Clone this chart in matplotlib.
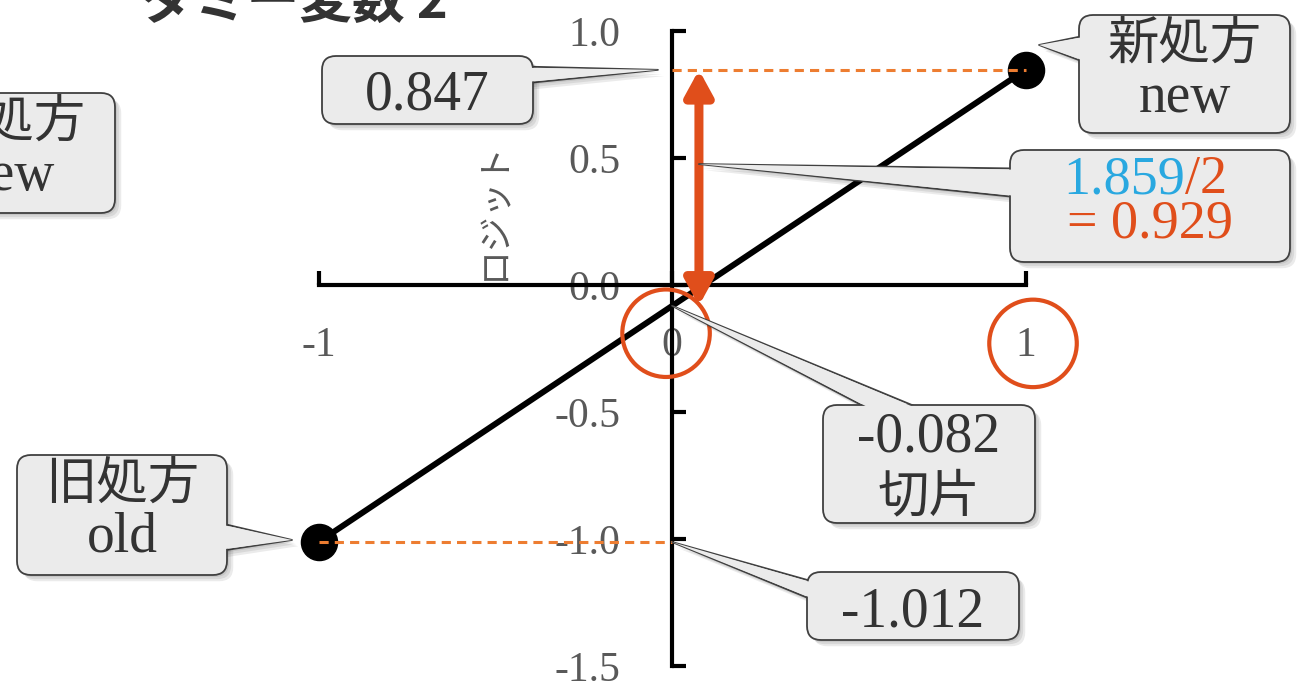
import matplotlib
matplotlib.use("Agg")
import matplotlib.pyplot as plt
import matplotlib.transforms as mtransforms
import matplotlib.patheffects as pe
from matplotlib.patches import FancyBboxPatch

# dummy coding: 旧処方 = -1, 新処方 = +1
groups = [("旧処方", "old"), ("新処方", "new")]
dummy = [-1, 1]
logit = [-1.012, 0.847]
intercept = -0.082
half_diff = 0.929
yticks = [-1.5, -1.0, -0.5, 0.0, 0.5, 1.0]
xticks = [-1, 0, 1]
circled = [0, 1]

W, H = 1301, 685
ORANGE = "#E04E1B"
DASH = "#ED7D31"
BLUE = "#29A8E0"
TXT = "#333333"
GREY = "#595959"
BOXFC = "#EBEBEB"
BOXEC = "#404040"
SERIF = ["Liberation Serif", "DejaVu Serif"]
CJK = ["Noto Sans CJK JP", "DejaVu Sans"]

fig = plt.figure(figsize=(W / 100, H / 100), dpi=100)
ax = fig.add_axes([0, 0, 1, 1])
ax.patch.set_visible(False)
ax.set_xlim(-1.901, 1.779)
ax.set_ylim(-1.575, 1.122)

# axes crossing at the origin
for side in ("top", "right"):
    ax.spines[side].set_visible(False)
ax.spines["left"].set_position(("data", 0))
ax.spines["bottom"].set_position(("data", 0))
ax.spines["left"].set_bounds(yticks[0], yticks[-1])
ax.spines["bottom"].set_bounds(xticks[0], xticks[-1])
for side in ("left", "bottom"):
    ax.spines[side].set_linewidth(3)

ax.set_yticks(yticks, [f"{v:.1f}" for v in yticks])
ax.set_xticks(xticks, [str(v) for v in xticks])
ax.tick_params(axis="y", direction="in", length=10, width=3, pad=37,
               labelsize=30, labelcolor=GREY, labelfontfamily="Liberation Serif")
ax.tick_params(axis="x", direction="in", length=10, width=3, pad=30,
               labelsize=30, labelcolor=GREY, labelfontfamily="Liberation Serif")

ax.set_ylabel("ロジット", family=CJK, fontsize=25, color=GREY)
ax.yaxis.set_label_coords(512 / W, 1 - 210 / H)

fig.text(294 / W, 1 - 18 / H, "ダミー変数 2", ha="center", va="baseline",
         fontsize=38, weight="bold", family=CJK, color=TXT)

# regression line and the two group means
ax.plot(dummy, logit, color="black", lw=4.3, zorder=3)
ax.plot(dummy, logit, "o", color="black", ms=26, zorder=3.1)
ax.plot([0, dummy[1]], [logit[1]] * 2, ls=(0, (3, 2)), color=DASH, lw=2.2, zorder=3.2)
ax.plot([dummy[0], 0], [logit[0]] * 2, ls=(0, (3, 2)), color=DASH, lw=2.2, zorder=3.2)

# half of the difference: intercept -> new group
arrow_x = 0.076
ax.annotate("", xy=(arrow_x, intercept + half_diff), xytext=(arrow_x, intercept),
            arrowprops=dict(arrowstyle="<|-|>,head_length=0.75,head_width=0.41",
                            color=ORANGE, lw=6.5, shrinkA=0, shrinkB=0,
                            mutation_scale=20), zorder=4)

# circles round the x tick labels 0 and 1
ax.scatter([circled[0] - 0.017, circled[1] + 0.021], [-0.19, -0.23], s=63 ** 2,
           facecolors="none", edgecolors=ORANGE, linewidths=3, zorder=4)

# pixel layout transform (origin top-left)
px = mtransforms.Affine2D().scale(1 / W, -1 / H).translate(0, 1) + fig.transFigure


def shadow():
    return [pe.SimplePatchShadow(offset=(d, -d), shadow_rgbFace="black", alpha=0.08)
            for d in (1.5, 3, 4.5)] + [pe.Normal()]


def callout(box, tip=None, base=None, width=28):
    x0, y0, w, h = box
    patch = FancyBboxPatch((x0, y0), w, h, boxstyle="round,pad=0,rounding_size=14",
                           transform=px, fc=BOXFC, ec=BOXEC, lw=1.3, zorder=6)
    patch.set_path_effects(shadow())
    ax.add_patch(patch)
    if tip is None:
        return
    # outlined pointer under the box, then a plain fill over the box border
    passes = ((width, BOXEC, 1.3, 5), (width - 2.5, "none", 0, 7))
    for k, (tw, ec, lw, z) in enumerate(passes):
        a = ax.annotate("", xy=tip, xycoords="data", xytext=base, textcoords=px,
                        arrowprops=dict(arrowstyle=f"wedge,tail_width={tw / 27.8:.3f}",
                                        fc=BOXFC, ec=ec, lw=lw, shrinkA=0, shrinkB=0,
                                        mutation_scale=20),
                        zorder=z)
        if k == 0:
            a.arrow_patch.set_path_effects(shadow())


def label(x, y, s, size=40, color=TXT, family=SERIF, va="baseline", ha="center"):
    ax.text(x, y, s, transform=px, fontsize=size, color=color, family=family,
            ha=ha, va=va, zorder=8)


callout((322, 56, 211, 68), tip=(-0.04, logit[1]), base=(523, 75), width=17)
label(427.5, 110, f"{logit[1]:.3f}")

callout((1079, 15, 211, 118), tip=(dummy[1] + 0.038, logit[1] + 0.098),
        base=(1089, 49), width=29)
label(1184.5, 44, groups[1][0], size=37, family=CJK, va="center")
label(1184.5, 112, groups[1][1])

callout((1010, 150, 280, 112), tip=(arrow_x, 0.476), base=(1020, 183), width=29)
label(1185, 193, f"{logit[1] - logit[0]:.3f}", size=39, color=BLUE, ha="right")
label(1185, 193, "/2", size=39, color=ORANGE, ha="left")
label(1150, 238, f"= {half_diff:.3f}", size=39, color=ORANGE)

callout((823, 405, 212, 118), tip=(0, intercept), base=(912, 418), width=24)
label(929, 452, f"{intercept:.3f}")
label(929, 497, "切片", size=37, family=CJK, va="center")

callout((807, 572, 212, 68), tip=(0, logit[0]), base=(817, 592), width=18)
label(913, 627, f"{logit[0]:.3f}")

callout((17, 455, 210, 120), tip=(dummy[0] - 0.075, logit[0] + 0.008),
        base=(217, 537), width=29)
label(122, 484, groups[0][0], size=37, family=CJK, va="center")
label(122, 552, groups[0][1])

# second copy of the new-group label, partly off the left edge
callout((-97, 93, 212, 120))
label(9, 122, groups[1][0], size=37, family=CJK, va="center")
label(9, 190, groups[1][1])

fig.savefig("out.png", dpi=100)
